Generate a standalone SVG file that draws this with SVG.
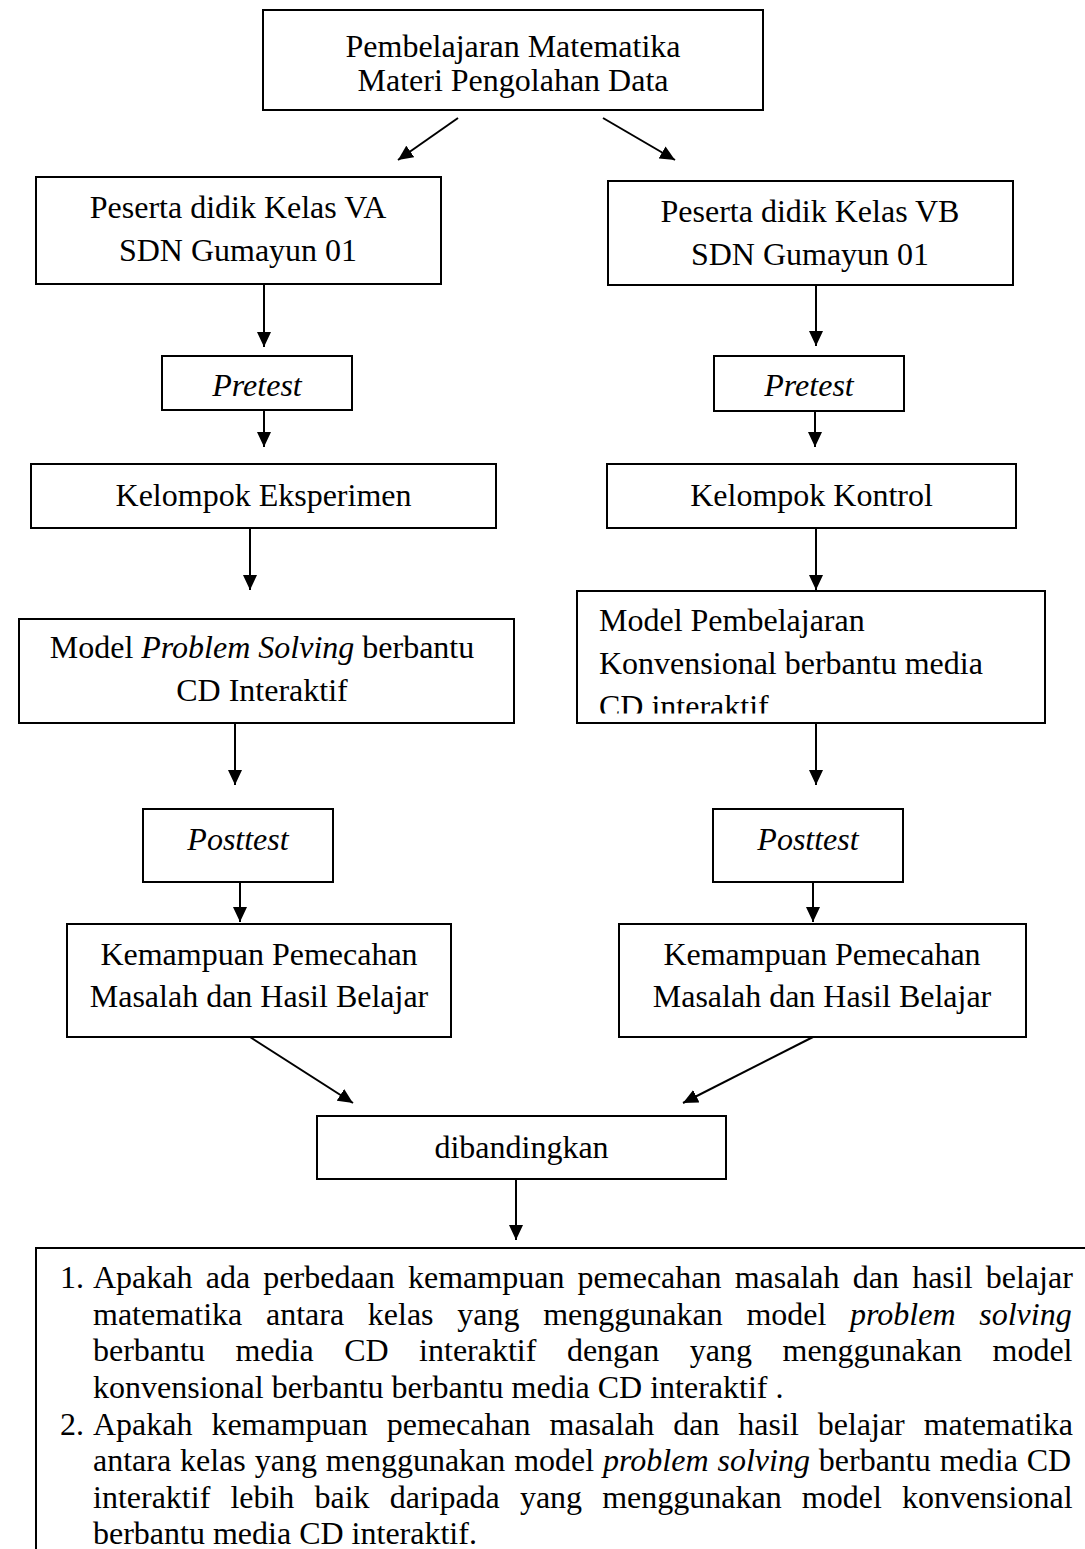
<svg xmlns="http://www.w3.org/2000/svg" width="1085" height="1549" viewBox="0 0 1085 1549">
<style>
  .box{fill:#fff;stroke:#000;stroke-width:2}
  .t{font-family:"Liberation Serif","Times New Roman",serif;font-size:32px;fill:#000}
  .c{text-anchor:middle}
  .i{font-style:italic}
  .edge{stroke:#000;stroke-width:2;fill:none;marker-end:url(#ah)}
</style>
<defs>
  <marker id="ah" markerUnits="userSpaceOnUse" markerWidth="16" markerHeight="14" refX="15" refY="7" orient="auto">
    <path d="M0,0 L15,7 L0,14 Z" fill="#000"/>
  </marker>
  <clipPath id="clipKonv"><rect x="578" y="592" width="466" height="121.5"/></clipPath>
</defs>
<rect width="1085" height="1549" fill="#fff"/>

<g id="connectors">
  <line class="edge" x1="458" y1="118" x2="398" y2="160"/>
  <line class="edge" x1="603" y1="118" x2="675" y2="160"/>
  <line class="edge" x1="264" y1="284" x2="264" y2="347"/>
  <line class="edge" x1="816" y1="285" x2="816" y2="346"/>
  <line class="edge" x1="264" y1="410" x2="264" y2="447"/>
  <line class="edge" x1="815" y1="411" x2="815" y2="447"/>
  <line class="edge" x1="250" y1="528" x2="250" y2="590"/>
  <line class="edge" x1="816" y1="528" x2="816" y2="590"/>
  <line class="edge" x1="235" y1="723" x2="235" y2="785"/>
  <line class="edge" x1="816" y1="723" x2="816" y2="785"/>
  <line class="edge" x1="240" y1="882" x2="240" y2="922"/>
  <line class="edge" x1="813" y1="882" x2="813" y2="922"/>
  <line class="edge" x1="250" y1="1037" x2="353" y2="1103"/>
  <line class="edge" x1="813" y1="1037" x2="683" y2="1103"/>
  <line class="edge" x1="516" y1="1179" x2="516" y2="1240"/>
</g>

<g id="node-top">
  <rect class="box" x="263" y="10" width="500" height="100"/>
  <text class="t c" x="513" y="57">Pembelajaran Matematika</text>
  <text class="t c" x="513" y="91">Materi Pengolahan Data</text>
</g>

<g id="node-va">
  <rect class="box" x="36" y="177" width="405" height="107"/>
  <text class="t c" x="238" y="218">Peserta didik Kelas VA</text>
  <text class="t c" x="238" y="261">SDN Gumayun 01</text>
</g>

<g id="node-vb">
  <rect class="box" x="608" y="181" width="405" height="104"/>
  <text class="t c" x="810" y="222">Peserta didik Kelas VB</text>
  <text class="t c" x="810" y="265">SDN Gumayun 01</text>
</g>

<g id="node-pretest-l">
  <rect class="box" x="162" y="356" width="190" height="54"/>
  <text class="t c i" x="257" y="396">Pretest</text>
</g>

<g id="node-pretest-r">
  <rect class="box" x="714" y="356" width="190" height="55"/>
  <text class="t c i" x="809" y="396">Pretest</text>
</g>

<g id="node-eksperimen">
  <rect class="box" x="31" y="464" width="465" height="64"/>
  <text class="t c" x="263.5" y="506">Kelompok Eksperimen</text>
</g>

<g id="node-kontrol">
  <rect class="box" x="607" y="464" width="409" height="64"/>
  <text class="t c" x="811.5" y="506">Kelompok Kontrol</text>
</g>

<g id="node-problem-solving">
  <rect class="box" x="19" y="619" width="495" height="104"/>
  <text class="t c" x="262" y="658">Model <tspan class="i">Problem Solving</tspan> berbantu</text>
  <text class="t c" x="262" y="701">CD Interaktif</text>
</g>

<g id="node-konvensional">
  <rect class="box" x="577" y="591" width="468" height="132"/>
  <g clip-path="url(#clipKonv)">
    <text class="t" x="599" y="631">Model Pembelajaran</text>
    <text class="t" x="599" y="674">Konvensional berbantu media</text>
    <text class="t" x="599" y="717">CD interaktif</text>
  </g>
</g>

<g id="node-posttest-l">
  <rect class="box" x="143" y="809" width="190" height="73"/>
  <text class="t c i" x="238" y="850">Posttest</text>
</g>

<g id="node-posttest-r">
  <rect class="box" x="713" y="809" width="190" height="73"/>
  <text class="t c i" x="808" y="850">Posttest</text>
</g>

<g id="node-kemampuan-l">
  <rect class="box" x="67" y="924" width="384" height="113"/>
  <text class="t c" x="259" y="965">Kemampuan Pemecahan</text>
  <text class="t c" x="259" y="1007">Masalah dan Hasil Belajar</text>
</g>

<g id="node-kemampuan-r">
  <rect class="box" x="619" y="924" width="407" height="113"/>
  <text class="t c" x="822" y="965">Kemampuan Pemecahan</text>
  <text class="t c" x="822" y="1007">Masalah dan Hasil Belajar</text>
</g>

<g id="node-dibandingkan">
  <rect class="box" x="317" y="1116" width="409" height="63"/>
  <text class="t c" x="521.5" y="1158">dibandingkan</text>
</g>

<g id="node-questions">
  <path d="M36,1560 V1248 H1095" fill="none" stroke="#000" stroke-width="2"/>
  <text class="t" x="60" y="1288">1.</text>
  <text class="t" x="93" y="1288" word-spacing="5.2">Apakah ada perbedaan kemampuan pemecahan masalah dan hasil belajar</text>
  <text class="t" x="93" y="1324.5" word-spacing="15.7">matematika antara kelas yang menggunakan model <tspan class="i">problem solving</tspan></text>
  <text class="t" x="93" y="1361" word-spacing="22.5">berbantu media CD interaktif dengan yang menggunakan model</text>
  <text class="t" x="93" y="1398">konvensional berbantu berbantu media CD interaktif .</text>
  <text class="t" x="60" y="1434.5">2.</text>
  <text class="t" x="93" y="1434.5" word-spacing="10.9">Apakah kemampuan pemecahan masalah dan hasil belajar matematika</text>
  <text class="t" x="93" y="1471" word-spacing="0.9">antara kelas yang menggunakan model <tspan class="i">problem solving</tspan> berbantu media CD</text>
  <text class="t" x="93" y="1508" word-spacing="12.1">interaktif lebih baik daripada yang menggunakan model konvensional</text>
  <text class="t" x="93" y="1544">berbantu media CD interaktif.</text>
</g>
</svg>
